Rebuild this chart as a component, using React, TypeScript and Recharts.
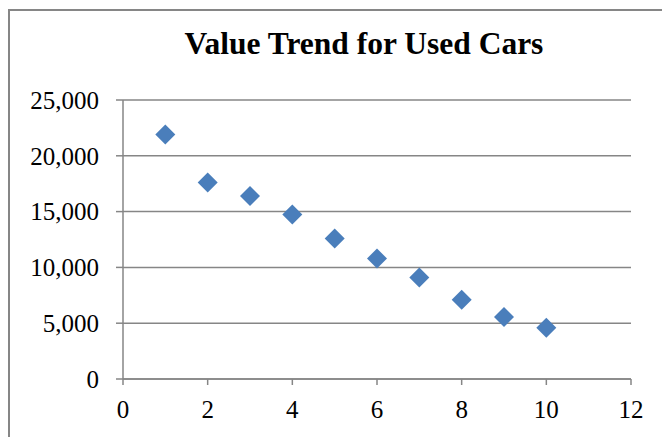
import * as React from 'react';
import { CartesianGrid, Scatter, ScatterChart, XAxis, YAxis } from 'recharts';

const ages = [1, 2, 3, 4, 5, 6, 7, 8, 9, 10];
const values = [21900, 17600, 16400, 14750, 12600, 10800, 9100, 7100, 5550, 4600];
const xTicks = [0, 2, 4, 6, 8, 10, 12];
const yTicks = [0, 5000, 10000, 15000, 20000, 25000];

const data = ages.map((age, i) => ({ age, value: values[i] }));

const GRAY = '#868686';
const BLUE = '#4A7EBB';
const FONT = '"Liberation Serif", "Times New Roman", serif';

function Diamond(props: { cx?: number; cy?: number }): React.JSX.Element | null {
  const { cx, cy } = props;
  if (cx == null || cy == null) return null;
  const r = 10;
  return (
    <polygon
      points={`${cx},${cy - r} ${cx + r},${cy} ${cx},${cy + r} ${cx - r},${cy}`}
      fill={BLUE}
    />
  );
}

type TickProps = { x?: number; y?: number; payload?: { value: number } };

function XTick({ x, y, payload }: TickProps): React.JSX.Element {
  return (
    <text x={x} y={y} dy="0.71em" textAnchor="middle" fill="#000" style={{ fontFamily: FONT, fontSize: 25 }}>
      {payload?.value}
    </text>
  );
}

function YTick({ x, y, payload }: TickProps): React.JSX.Element {
  return (
    <text x={x} y={y} dy="0.355em" textAnchor="end" fill="#000" style={{ fontFamily: FONT, fontSize: 25 }}>
      {(payload?.value ?? 0).toLocaleString('en-US')}
    </text>
  );
}

export default function App(): React.JSX.Element {
  return (
    <div
      style={{
        position: 'absolute',
        left: 0,
        top: 0,
        width: 662,
        height: 437,
        overflow: 'hidden',
        background: '#fff',
        fontFamily: FONT,
      }}
    >
      <div
        style={{
          position: 'absolute',
          left: 8,
          top: 9,
          width: 720,
          height: 500,
          borderLeft: `2px solid ${GRAY}`,
          borderTop: `2px solid ${GRAY}`,
        }}
      />
      <div
        style={{
          position: 'absolute',
          left: 0,
          top: 26,
          width: 728,
          textAlign: 'center',
          fontWeight: 'bold',
          fontSize: 31.5,
          lineHeight: '36px',
          color: '#000',
        }}
      >
        Value Trend for Used Cars
      </div>
      <ScatterChart
        width={662}
        height={437}
        margin={{ top: 100, right: 31, left: 0, bottom: 0 }}
        style={{ position: 'absolute', left: 0, top: 0 }}
      >
        <CartesianGrid horizontal vertical={false} stroke={GRAY} strokeWidth={1.5} />
        <XAxis
          type="number"
          dataKey="age"
          domain={[0, 12]}
          ticks={xTicks}
          height={58}
          tickSize={6}
          tickMargin={15}
          tick={<XTick />}
          axisLine={{ stroke: GRAY, strokeWidth: 1.5 }}
          tickLine={{ stroke: GRAY, strokeWidth: 1.5 }}
          interval={0}
        />
        <YAxis
          type="number"
          dataKey="value"
          domain={[0, 25000]}
          ticks={yTicks}
          width={123}
          tickSize={7}
          tickMargin={17}
          tick={<YTick />}
          axisLine={{ stroke: GRAY, strokeWidth: 1.5 }}
          tickLine={{ stroke: GRAY, strokeWidth: 1.5 }}
          interval={0}
        />
        <Scatter data={data} shape={Diamond} isAnimationActive={false} />
      </ScatterChart>
    </div>
  );
}
